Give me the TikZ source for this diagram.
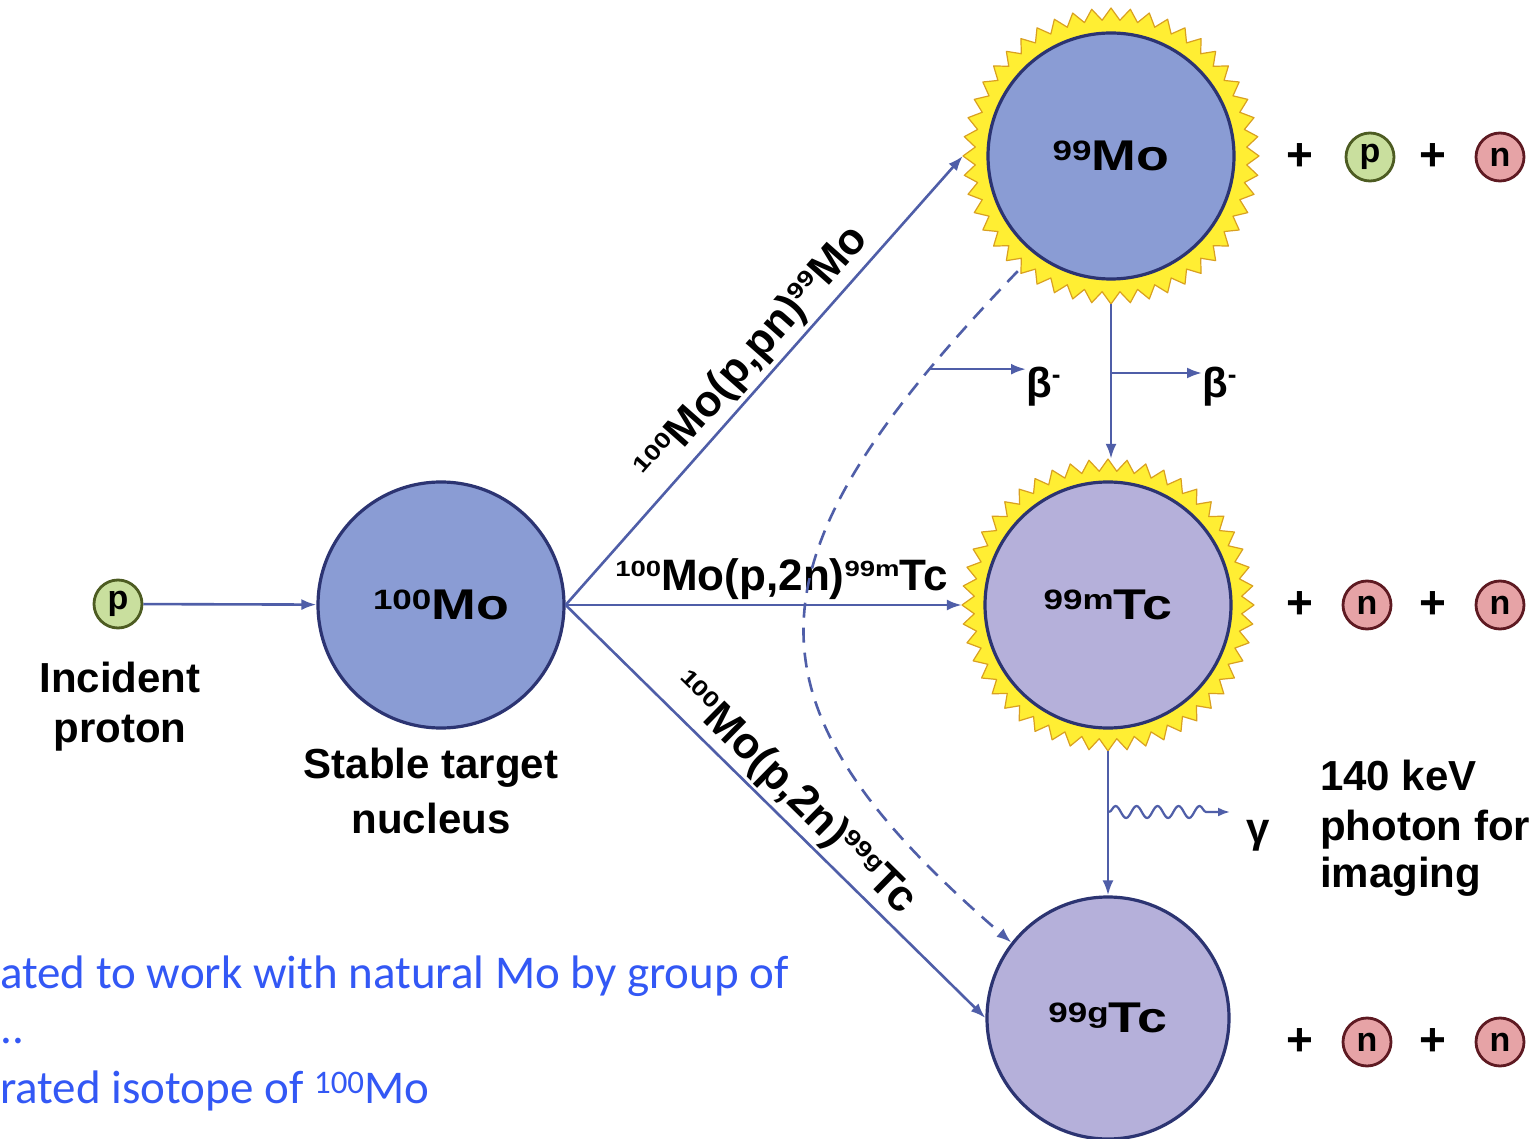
\documentclass[tikz,border=0pt]{standalone}
\usepackage{fontspec}
\setmainfont{Liberation Sans}
\newfontfamily\widefont{Liberation Sans}[FakeStretch=1.25]
\newfontfamily\calfont{Carlito}
\usetikzlibrary{arrows.meta,decorations.pathmorphing,calc}
\definecolor{moblue}{HTML}{8A9CD4}
\definecolor{tclav}{HTML}{B5B0DA}
\definecolor{nucedge}{HTML}{2C3472}
\definecolor{arrowc}{HTML}{4F5EA8}
\definecolor{sunY}{HTML}{FFEE33}
\definecolor{sunO}{HTML}{D9A020}
\definecolor{pgreen}{HTML}{C9DF9E}
\definecolor{pdark}{HTML}{4D5C22}
\definecolor{npink}{HTML}{E6A3A6}
\definecolor{ndark}{HTML}{5E1A22}
\definecolor{txtblue}{HTML}{3358F5}
\newcommand\isoc[2]{{\widefont\bfseries\fontsize{28}{28}\selectfont\raisebox{10pt}{#1}}{\widefont\bfseries\fontsize{43}{43}\selectfont #2}}
\newcommand\rsup[1]{{\widefont\bfseries\fontsize{22}{22}\selectfont\raisebox{14pt}{#1}}}
\newcommand\bminus{{\fontsize{26}{26}\selectfont\raisebox{14pt}{-}}}
\begin{document}
\begin{tikzpicture}[x=1pt,y=-1pt,
  arr/.style={draw=arrowc, line width=2.6pt, -{Latex[length=15pt,width=11pt]}},
  dashline/.style={draw=arrowc, line width=2.6pt, dash pattern=on 15pt off 10pt, -{Latex[length=15pt,width=11pt]}},
  nuc/.style={circle, draw=nucedge, line width=3.2pt, inner sep=0pt, minimum size=246pt},
  sunb/.style={fill=sunY, draw=sunO, line width=1.2pt, line join=round},
  part/.style={circle, line width=2.8pt, inner sep=0pt, minimum size=48pt, font=\bfseries\fontsize{34}{34}\selectfont},
  pp/.style={part, fill=pgreen, draw=pdark},
  nn/.style={part, fill=npink, draw=ndark},
  plus/.style={inner sep=0pt, font=\bfseries\fontsize{46}{46}\selectfont},
  lbl/.style={inner sep=0pt, font=\bfseries\fontsize{42}{42}\selectfont},
  rlab/.style={font=\bfseries\fontsize{44}{44}\selectfont},
  blue/.style={inner sep=0pt, text=txtblue, font=\calfont\fontsize{47}{47}\selectfont}]
\useasboundingbox (0,0) rectangle (1537,1139);
\clip (0,0) rectangle (1537,1139);
\fill[white] (0,0) rectangle (1537,1139);

\coordinate (cMo) at (1111,156);
\coordinate (cTm) at (1108,605);
\begin{scope}[shift={(cMo)}]
  \filldraw[sunb] plot[variable=\k, samples=96, domain=0:95] ({\k*3.75}:{148-12*mod(round(\k),2)}) -- cycle;
\end{scope}
\begin{scope}[shift={(cTm)}]
  \filldraw[sunb] plot[variable=\k, samples=96, domain=0:95] ({\k*3.75}:{146-12*mod(round(\k),2)}) -- cycle;
\end{scope}

% nuclei
\node[nuc, fill=moblue] (mo100) at (441,605) {\isoc{100}{Mo}};
\node[nuc, fill=moblue] (mo99) at (cMo) {\isoc{99}{Mo}};
\node[circle, minimum size=296pt, inner sep=0pt] (mo99s) at (cMo) {};
\node[nuc, fill=tclav] (tc99m) at (cTm) {\isoc{99m}{Tc}};
\node[circle, minimum size=292pt, inner sep=0pt] (tc99ms) at (cTm) {};
\node[nuc, fill=tclav, minimum size=242pt] (tc99g) at (1108,1018) {\isoc{99g}{Tc}};

% incident proton
\node[pp] (p0) at (118,604) {p};
\node[lbl, anchor=base] (inc1) at (120,692) {Incident};
\node[lbl, anchor=base] (inc2) at (120,742) {proton};
\node[lbl, anchor=base] (st1) at (431,778) {Stable target};
\node[lbl, anchor=base] (st2) at (431,833) {nucleus};

% reaction arrows
\draw[arr] (p0) -- (mo100);
\draw[arr] (mo100.east) -- node[rlab, above, sloped, pos=0.52, inner sep=4pt] (r1) {\rsup{100}Mo(p,pn)\rsup{99}Mo} (mo99s.west);
\draw[arr] (mo100.east) -- node[rlab, above, pos=0.545, inner sep=4pt] (r2) {\rsup{100}Mo(p,2n)\rsup{99m}Tc} (tc99ms.west);
\draw[arr] (mo100.east) -- node[rlab, above, sloped, pos=0.5, inner sep=3pt] (r3) {\rsup{100}Mo(p,2n)\rsup{99g}Tc} (tc99g.west);

% decays
\draw[dashline] (mo99s.231) .. controls (740,560) and (730,700) .. coordinate[pos=0.12] (bL) (tc99g.142);
\node[lbl, anchor=base west] (betaL) at (1026,398) {β\bminus};
\draw[arr] (bL) -- (betaL.west |- bL);

\draw[arr] (mo99s.south) -- (mo99s.south |- tc99ms.north);
\coordinate (bR) at (1111,373);
\node[lbl, anchor=base west] (betaR) at (1202,398) {β\bminus};
\draw[arr] (bR) -- (betaR.west |- bR);

\draw[arr] (tc99ms.south) -- (tc99g.north);
\coordinate (gs) at (1109,812);
\node[lbl, anchor=base west] (gam) at (1246,842) {γ};
\draw[draw=arrowc, line width=2.2pt, decorate, decoration={snake, amplitude=6pt, segment length=21pt, post length=6pt}] (gs) -- ($(gam.west |- gs)+(-24,0)$);
\draw[draw=arrowc, line width=2.2pt, -{Latex[length=12pt,width=9pt]}] ($(gam.west |- gs)+(-26,0)$) -- ($(gam.west |- gs)+(-16,0)$);

\node[lbl, anchor=base west] (k1) at (1320,790) {140 keV};
\node[lbl, anchor=base west] (k2) at (1320,840) {photon for};
\node[lbl, anchor=base west] (k3) at (1320,887) {imaging};

% products
\node[plus] (a1) at (1300,157) {+};
\node[pp] (a2) at (1370,157) {p};
\node[plus] (a3) at (1433,157) {+};
\node[nn] (a4) at (1500,157) {n};

\node[plus] (b1) at (1300,605) {+};
\node[nn] (b2) at (1367,605) {n};
\node[plus] (b3) at (1433,605) {+};
\node[nn] (b4) at (1500,605) {n};

\node[plus] (c1) at (1300,1042) {+};
\node[nn] (c2) at (1367,1042) {n};
\node[plus] (c3) at (1433,1042) {+};
\node[nn] (c4) at (1500,1042) {n};

% blue text
\node[blue, anchor=base west] (t1) at (0,988) {ated to work with natural Mo by group of};
\node[blue, anchor=base west] (t2) at (0,1043) {..};
\node[blue, anchor=base west] (t3) at (0,1103) {rated isotope of \textsuperscript{100}Mo};
\end{tikzpicture}
\end{document}
